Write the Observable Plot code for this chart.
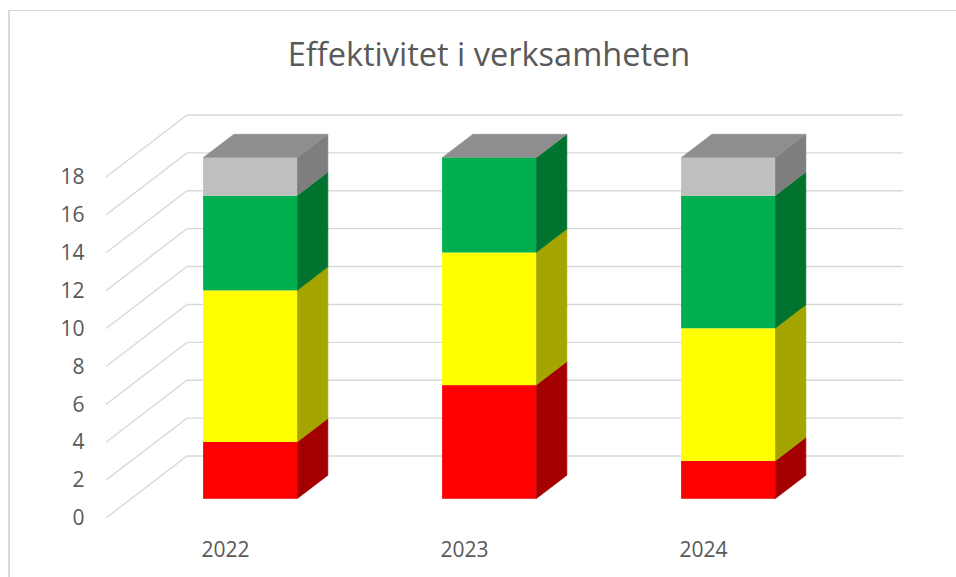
<!DOCTYPE html>
<html>
<head>
<meta charset="utf-8">
<script src="https://cdn.jsdelivr.net/npm/d3@7"></script>
<script src="https://cdn.jsdelivr.net/npm/@observablehq/plot@0.6"></script>
<style>
html, body { margin: 0; padding: 0; background: #ffffff; }
#wrap { position: relative; width: 956px; height: 577px; overflow: hidden; font-family: "Open Sans", sans-serif; }
#frame { position: absolute; left: 8px; top: 10px; right: -10px; bottom: -10px; border-top: 1px solid #d9d9d9; border-left: 2px solid #d9d9d9; }
#title { position: absolute; left: 0; width: 978px; top: 38px; line-height: 32px; text-align: center; font-size: 32.5px; color: #595959; white-space: nowrap; }
#chart { position: absolute; left: 0; top: 0; }
</style>
</head>
<body>
<div id="wrap">
  <div id="frame"></div>
  <div id="chart"></div>
  <div id="title">Effektivitet i verksamheten</div>
</div>
<script>
// ---- data ----
const years = ["2022", "2023", "2024"];
const seriesNames = ["Röd", "Gul", "Grön", "Grå"];
const red    = [3, 6, 2];
const yellow = [8, 7, 7];
const green  = [5, 5, 7];
const gray   = [2, 0, 2];
const yTicks = [0, 2, 4, 6, 8, 10, 12, 14, 16, 18];

// ---- styles ----
const frontColors = ["#ff0000", "#ffff00", "#00b050", "#bfbfbf"];
const sideColors  = ["#a50000", "#a5a500", "#00742f", "#7e7e7e"];
const topColor = "#8e8e8e";
const gridColor = "#d9d9d9";

// oblique depth projection (pixels for the full floor depth)
const DX = 81, DY = 62;
const D0 = 0.31, D1 = 0.69;

const seriesValues = [red, yellow, green, gray];
const rows = [];
const totals = [];
years.forEach((year, i) => {
  let acc = 0;
  seriesValues.forEach((vals, s) => {
    const v = vals[i];
    rows.push({year, series: seriesNames[s], value: v, y1: acc, y2: acc + v, front: frontColors[s], side: sideColors[s]});
    acc += v;
  });
  totals.push({year, total: acc});
});

function findScales(args) {
  for (const a of args) if (a && typeof a.y === "function" && typeof a.x === "function") return a;
  return null;
}
function findDims(args) {
  for (const a of args) if (a && typeof a.marginLeft === "number" && typeof a.width === "number") return a;
  return null;
}
const poly = pts => "M" + pts.map(p => p[0] + "," + p[1]).join("L") + "Z";

// gridlines: floor-side diagonal + back wall horizontal
function gridMark(...args) {
  const {y} = findScales(args);
  const dims = findDims(args);
  const x0 = dims.marginLeft, x1 = dims.width - dims.marginRight;
  const g = d3.create("svg:g").attr("fill", "none").attr("stroke", gridColor).attr("stroke-width", 1.4);
  for (const v of yTicks) {
    const yy = y(v);
    g.append("path").attr("d", `M${x0},${yy}L${x0 + DX},${yy - DY}L${x1 + DX},${yy - DY}`);
  }
  return g.node();
}

// side and top faces of the boxes
function depthMark(...args) {
  const {x, y} = findScales(args);
  const bw = typeof x.bandwidth === "function" ? x.bandwidth() : x.bandwidth;
  const ddx = (D1 - D0) * DX, ddy = (D1 - D0) * DY;
  const g = d3.create("svg:g");
  for (const r of rows) {
    if (r.value <= 0) continue;
    const xr = x(r.year) + D0 * DX + bw;
    const ya = y(r.y1) - D0 * DY, yb = y(r.y2) - D0 * DY;
    g.append("path")
      .attr("d", poly([[xr, ya], [xr + ddx, ya - ddy], [xr + ddx, yb - ddy], [xr, yb]]))
      .attr("fill", r.side).attr("stroke", r.side).attr("stroke-width", 0.6);
  }
  for (const t of totals) {
    const xl = x(t.year) + D0 * DX, xr = xl + bw;
    const yt = y(t.total) - D0 * DY;
    g.append("path")
      .attr("d", poly([[xl, yt], [xl + ddx, yt - ddy], [xr + ddx, yt - ddy], [xr, yt]]))
      .attr("fill", topColor).attr("stroke", topColor).attr("stroke-width", 0.6);
  }
  return g.node();
}

const chart = Plot.plot({
  width: 956,
  height: 577,
  marginLeft: 106,
  marginRight: 134,
  marginTop: 177,
  marginBottom: 59,
  style: {fontFamily: "Open Sans, sans-serif", fontSize: "21px", color: "#595959", background: "transparent", overflow: "visible"},
  x: {domain: years, paddingInner: 0.605, paddingOuter: 0.3, tickSize: 0, tickPadding: 24, label: null},
  y: {domain: [0, 18], ticks: 10, tickSize: 0, tickPadding: 22, label: null},
  marks: [
    gridMark,
    depthMark,
    Plot.barY(rows.filter(r => r.value > 0), {
      x: "year", y1: "y1", y2: "y2", fill: "front", inset: 0,
      dx: D0 * DX, dy: -D0 * DY
    })
  ]
});
document.getElementById("chart").appendChild(chart);
</script>
</body>
</html>
